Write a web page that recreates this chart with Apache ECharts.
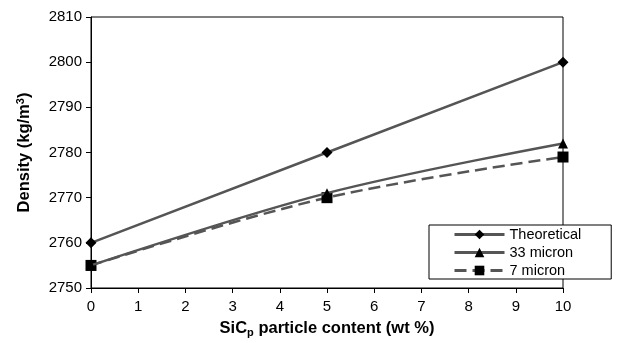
<!DOCTYPE html>
<html>
<head>
<meta charset="utf-8">
<script src="https://cdn.jsdelivr.net/npm/echarts@6/dist/echarts.min.js"></script>
<style>
  html, body { margin: 0; padding: 0; background: #fff; }
  #chart { width: 632px; height: 343px; }
</style>
</head>
<body>
<div id="chart"></div>
<script>
// 数据
const sicContent = [0, 5, 10];
const theoretical = [2760, 2780, 2800];
const micron33 = [2755, 2771, 2782];
const micron7 = [2755, 2770, 2779];
const seriesNames = ['Theoretical', '33 micron', '7 micron'];

const pairs = (ys) => sicContent.map((x, i) => [x, ys[i]]);

const font = 'Liberation Sans, Arial, sans-serif';
const lineColor = '#555555';
const dash = [12, 6];

const chart = echarts.init(document.getElementById('chart'));

chart.setOption({
    animation: false,
    backgroundColor: '#fff',
    textStyle: {fontFamily: font},
    grid: {
        left: 91,
        right: 69,
        top: 17,
        bottom: 55,
        show: true,
        borderColor: '#000',
        borderWidth: 1,
        containLabel: false
    },
    legend: {
        orient: 'vertical',
        left: 429,
        top: 225,
        padding: [2, 30, 1, 24],
        itemGap: 3,
        itemWidth: 50,
        itemHeight: 12,
        backgroundColor: '#fff',
        borderColor: '#000',
        borderWidth: 1,
        borderRadius: 0,
        lineStyle: {width: 3, color: lineColor},
        textStyle: {fontSize: 14.5, color: '#000', fontFamily: font},
        data: [
            {name: seriesNames[0]},
            {name: seriesNames[1]},
            {name: seriesNames[2], lineStyle: {type: dash, width: 3, color: lineColor}}
        ]
    },
    xAxis: {
        type: 'value',
        min: 0,
        max: 10,
        interval: 1,
        name: '{b|SiC}{s|p}{b| particle content (wt %)}',
        nameLocation: 'middle',
        nameGap: 31,
        nameTextStyle: {
            rich: {
                b: {fontSize: 16.5, fontWeight: 'bold', color: '#000', fontFamily: font},
                s: {fontSize: 11, fontWeight: 'bold', color: '#000', fontFamily: font, padding: [8, 0, 0, 0]}
            }
        },
        axisLine: {lineStyle: {color: '#000', width: 1}},
        axisTick: {inside: false, length: 5, lineStyle: {color: '#000'}},
        axisLabel: {fontSize: 15, color: '#000', margin: 11},
        splitLine: {show: false}
    },
    yAxis: {
        type: 'value',
        min: 2750,
        max: 2810,
        interval: 10,
        name: '{b|Density (kg/m}{s|3}{b|)}',
        nameLocation: 'middle',
        nameGap: 57,
        nameTextStyle: {
            rich: {
                b: {fontSize: 16.5, fontWeight: 'bold', color: '#000', fontFamily: font},
                s: {fontSize: 11, fontWeight: 'bold', color: '#000', fontFamily: font, padding: [0, 0, 8, 0]}
            }
        },
        axisLine: {show: true, lineStyle: {color: '#000', width: 1}},
        axisTick: {show: true, inside: false, length: 5, lineStyle: {color: '#000'}},
        axisLabel: {fontSize: 15, color: '#000', margin: 9, formatter: (v) => String(v)},
        splitLine: {show: false}
    },
    series: [
        {
            name: seriesNames[0],
            type: 'line',
            data: pairs(theoretical),
            symbol: 'diamond',
            symbolSize: 11,
            lineStyle: {color: lineColor, width: 2.5},
            itemStyle: {color: '#000'},
            z: 3
        },
        {
            name: seriesNames[1],
            type: 'line',
            data: pairs(micron33),
            smooth: 0.35,
            symbol: 'triangle',
            symbolSize: 10,
            lineStyle: {color: lineColor, width: 2.5},
            itemStyle: {color: '#000'},
            z: 2
        },
        {
            name: seriesNames[2],
            type: 'line',
            data: pairs(micron7),
            smooth: 0.35,
            symbol: 'rect',
            symbolSize: 11,
            lineStyle: {color: lineColor, width: 2.5, type: dash},
            itemStyle: {color: '#000'},
            z: 1
        }
    ]
});
</script>
</body>
</html>
